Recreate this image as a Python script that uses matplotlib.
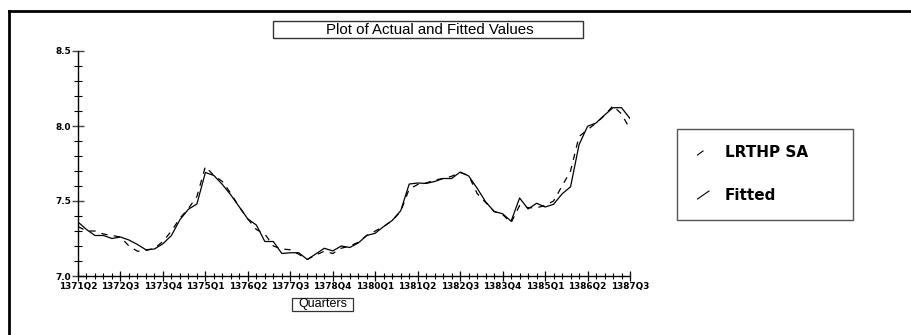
import matplotlib
matplotlib.use("Agg")
import matplotlib.pyplot as plt
from matplotlib.lines import Line2D
from matplotlib.patches import Rectangle
import numpy as np

# quarterly series, 1371Q2 .. 1387Q3
start_year, start_q = 1371, 2
actual = [7.36, 7.31, 7.27, 7.27, 7.25, 7.26, 7.24, 7.21, 7.175, 7.18,
          7.215, 7.27, 7.375, 7.445, 7.48, 7.69, 7.67, 7.61, 7.54, 7.46,
          7.38, 7.34, 7.23, 7.23, 7.15, 7.155, 7.155, 7.11, 7.147, 7.185,
          7.167, 7.20, 7.19, 7.22, 7.27, 7.285, 7.33, 7.37, 7.435, 7.613,
          7.62, 7.617, 7.63, 7.65, 7.65, 7.693, 7.667, 7.585, 7.495, 7.43,
          7.415, 7.365, 7.52, 7.447, 7.485, 7.46, 7.478, 7.547, 7.595, 7.875,
          7.998, 8.02, 8.073, 8.122, 8.122, 8.05]
fitted = [7.33, 7.30, 7.30, 7.28, 7.27, 7.26, 7.20, 7.165, 7.17, 7.185,
          7.23, 7.30, 7.385, 7.45, 7.53, 7.73, 7.67, 7.63, 7.55, 7.46,
          7.38, 7.31, 7.28, 7.20, 7.18, 7.175, 7.145, 7.11, 7.14, 7.165,
          7.15, 7.185, 7.20, 7.225, 7.27, 7.30, 7.33, 7.37, 7.43, 7.58,
          7.61, 7.62, 7.64, 7.65, 7.665, 7.69, 7.67, 7.55, 7.49, 7.43,
          7.41, 7.355, 7.47, 7.455, 7.455, 7.47, 7.50, 7.60, 7.70, 7.93,
          7.975, 8.02, 8.07, 8.135, 8.08, 7.98]
series_names = ["LRTHP SA", "Fitted"]
title = "Plot of Actual and Fitted Values"
xlabel = "Quarters"

n = len(actual)
quarters = []
for k in range(n):
    q = start_q - 1 + k
    quarters.append("%dQ%d" % (start_year + q // 4, q % 4 + 1))
x = np.arange(n)

fig = plt.figure(figsize=(9.12, 3.35), dpi=100)
W, H = 912.0, 335.0

def fx(px):
    return px / W

def fy(py):
    return 1 - py / H

ax = fig.add_axes([fx(78), fy(276), (630 - 78) / W, (276 - 51) / H])
ax.plot(x, actual, color="black", lw=0.9)
ax.plot(x, fitted, color="black", lw=0.9, linestyle=(0, (5, 5)))

ax.set_xlim(0, n - 1)
ax.set_ylim(7.0, 8.5)
for s in ("top", "right"):
    ax.spines[s].set_visible(False)
for s in ("left", "bottom"):
    ax.spines[s].set_linewidth(1.0)

ax.set_xticks(x[::5])
ax.set_xticklabels(quarters[::5])
ax.set_xticks(x, minor=True)
ax.set_yticks([7.0, 7.5, 8.0, 8.5])
ax.set_yticklabels(["7.0", "7.5", "8.0", "8.5"])
ax.set_yticks(np.arange(7.0, 8.51, 0.1), minor=True)

ax.tick_params(axis="x", which="major", direction="inout", length=7.5,
               width=0.9, pad=0.5, labelsize=6.4)
ax.tick_params(axis="x", which="minor", direction="inout", length=4,
               width=0.8)
ax.tick_params(axis="y", which="major", direction="inout", length=8.5,
               width=1.0, color="#444444", pad=0.5, labelsize=6.4)
ax.tick_params(axis="y", which="minor", direction="inout", length=5.5,
               width=0.8)
for lab in ax.get_xticklabels() + ax.get_yticklabels():
    lab.set_fontweight("bold")

# outer frame (top and left edges)
fig.add_artist(Line2D([fx(9.5), 1], [fy(10.5), fy(10.5)], color="black", lw=2.0))
fig.add_artist(Line2D([fx(9.5), fx(9.5)], [fy(10.5), 0], color="black", lw=2.0))

# title box
fig.add_artist(Rectangle((fx(273), fy(38)), (583 - 273) / W, (38 - 21) / H,
                         facecolor="white", edgecolor="#333333", lw=1.0))
fig.text(fx(430), fy(29.5), title, ha="center", va="center",
         fontsize=10.8, family="Liberation Sans")

# x-axis caption box
fig.add_artist(Rectangle((fx(292), fy(311)), (353 - 292) / W, (311 - 298) / H,
                         facecolor="white", edgecolor="#333333", lw=0.9))
fig.text(fx(322.5), fy(304.5), xlabel, ha="center", va="center",
         fontsize=9, family="Liberation Sans")

# legend box
fig.add_artist(Rectangle((fx(677), fy(220)), (853 - 677) / W, (220 - 129.5) / H,
                         facecolor="white", edgecolor="#555555", lw=1.0))
fig.add_artist(Line2D([fx(697.5), fx(703)], [fy(155), fy(151)], color="black", lw=0.8))
fig.add_artist(Line2D([fx(697.5), fx(709)], [fy(199), fy(191)], color="black", lw=0.8))
fig.text(fx(725), fy(152.5), series_names[0], ha="left", va="center",
         fontsize=11, fontweight="bold")
fig.text(fx(725), fy(195), series_names[1], ha="left", va="center",
         fontsize=11, fontweight="bold")

fig.savefig("out.png", dpi=100)
